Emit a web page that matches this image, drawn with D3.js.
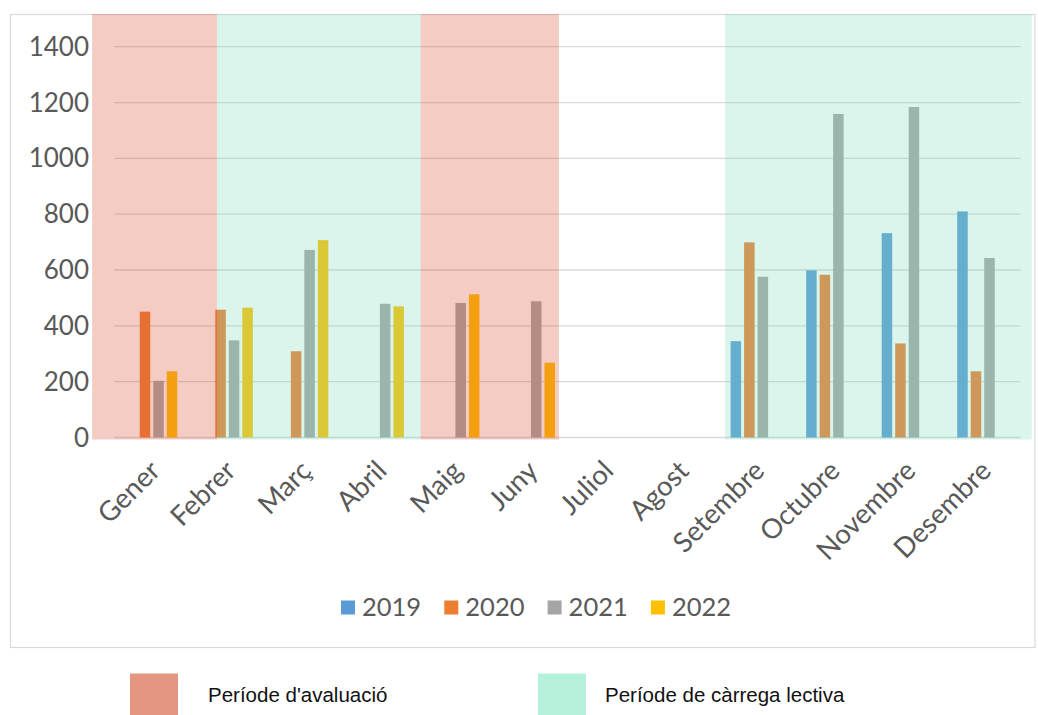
<!DOCTYPE html>
<html>
<head>
<meta charset="utf-8">
<script src="https://cdn.jsdelivr.net/npm/d3@7"></script>
<style>
  html, body { margin: 0; padding: 0; background: #ffffff; }
  svg { display: block; }
</style>
</head>
<body>
<svg id="chart" width="1038" height="715"></svg>
<script>
// Monthly counts per year
const months = ["Gener", "Febrer", "Març", "Abril", "Maig", "Juny", "Juliol", "Agost", "Setembre", "Octubre", "Novembre", "Desembre"];
const years = ["2019", "2020", "2021", "2022"];
const values2019 = [null, null, null, null, null, null, null, null, 345, 599, 732, 810];
const values2020 = [451, 458, 309, null, null, null, null, null, 699, 583, 337, 237];
const values2021 = [203, 348, 672, 479, 482, 488, null, null, 576, 1159, 1184, 643];
const values2022 = [237, 465, 707, 470, 513, 268, null, null, null, null, null, null];
const yTicks = [0, 200, 400, 600, 800, 1000, 1200, 1400];

// Shaded periods, in month-index units along the category axis
const periods = [
  { kind: "aval", from: -0.29, to: 1.363 },
  { kind: "lectiva", from: 1.363, to: 4.06 },
  { kind: "aval", from: 4.06, to: 5.89 },
  { kind: "lectiva", from: 8.09, to: 12.15 }
];
const periodLegend = [
  { kind: "aval", label: "Període d'avaluació" },
  { kind: "lectiva", label: "Període de càrrega lectiva" }
];

const seriesValues = [values2019, values2020, values2021, values2022];
const yearColor = d3.scaleOrdinal().domain(years).range(["#5B9BD5", "#ED7D31", "#A5A5A5", "#FFC000"]);
const overlayColor = { aval: "rgb(217,80,52)", lectiva: "rgb(127,220,190)" };
const swatchColor = { aval: "#E59680", lectiva: "#B4F0DA" };

const svg = d3.select("#chart");
const plot = { left: 114, right: 1020.5, top: 14, zero: 437.5 };

const x = d3.scaleBand().domain(months).range([plot.left, plot.right]).paddingInner(0).paddingOuter(0);
const xIdx = d3.scaleLinear().domain([0, months.length]).range([plot.left, plot.right]);
const x1 = d3.scaleBand().domain(years).range([0, x.bandwidth()]).paddingInner(0.222).paddingOuter(0.909);
const y = d3.scaleLinear().domain([0, 1400]).range([plot.zero, 46.7]);

// Chart frame
svg.append("rect")
  .attr("x", 10.5).attr("y", 14.5).attr("width", 1024.5).attr("height", 633)
  .attr("fill", "#ffffff").attr("stroke", "#D9D9D9").attr("stroke-width", 1.2);

// Gridlines
svg.append("g")
  .selectAll("line")
  .data(yTicks)
  .join("line")
  .attr("x1", plot.left).attr("x2", plot.right)
  .attr("y1", d => y(d)).attr("y2", d => y(d))
  .attr("stroke", "#D9D9D9")
  .attr("stroke-width", d => d === 0 ? 1.6 : 1.3);

// Y axis labels
svg.append("g")
  .selectAll("text")
  .data(yTicks)
  .join("text")
  .attr("x", 89)
  .attr("y", d => y(d))
  .attr("dy", "0.35em")
  .attr("text-anchor", "end")
  .attr("font-family", "Lato, 'Open Sans', sans-serif")
  .attr("font-size", 26)
  .attr("fill", "#595959")
  .text(d => d);

// Bars
const barData = [];
months.forEach((m, i) => {
  years.forEach((yr, k) => {
    const v = seriesValues[k][i];
    if (v != null) barData.push({ month: m, year: yr, value: v });
  });
});
svg.append("g")
  .selectAll("rect")
  .data(barData)
  .join("rect")
  .attr("x", d => x(d.month) + x1(d.year))
  .attr("width", x1.bandwidth())
  .attr("y", d => y(d.value))
  .attr("height", d => y(0) - y(d.value))
  .attr("fill", d => yearColor(d.year));

// Translucent period overlays
svg.append("g")
  .selectAll("rect")
  .data(periods)
  .join("rect")
  .attr("x", d => xIdx(d.from))
  .attr("width", d => xIdx(d.to) - xIdx(d.from))
  .attr("y", plot.top)
  .attr("height", y(0) + 2 - plot.top)
  .attr("fill", d => overlayColor[d.kind])
  .attr("fill-opacity", 0.29);

// Month labels, rotated
svg.append("g")
  .selectAll("text")
  .data(months)
  .join("text")
  .attr("transform", d => `translate(${x(d) + x.bandwidth() / 2 + 10},${plot.zero + 35}) rotate(-45)`)
  .attr("text-anchor", "end")
  .attr("font-family", "Lato, 'Open Sans', sans-serif")
  .attr("font-size", 27.5)
  .attr("fill", "#595959")
  .text(d => d);

// Year legend
const legend = svg.append("g").attr("transform", "translate(341,0)");
const li = legend.selectAll("g")
  .data(years)
  .join("g")
  .attr("transform", (d, i) => `translate(${i * 103.3},0)`);
li.append("rect")
  .attr("x", 0).attr("y", 600.5).attr("width", 14).attr("height", 14)
  .attr("fill", d => yearColor(d));
li.append("text")
  .attr("x", 21).attr("y", 616)
  .attr("font-family", "Lato, 'Open Sans', sans-serif")
  .attr("font-size", 25.5)
  .attr("fill", "#595959")
  .text(d => d);

// Period legend below the frame
const pl = svg.append("g")
  .selectAll("g")
  .data(periodLegend)
  .join("g")
  .attr("transform", (d, i) => `translate(${i === 0 ? 130 : 538},0)`);
pl.append("rect")
  .attr("x", 0).attr("y", 673.5).attr("width", 48).attr("height", 45)
  .attr("fill", d => swatchColor[d.kind]);
pl.append("text")
  .attr("x", (d, i) => i === 0 ? 78 : 67).attr("y", 701.5)
  .attr("font-family", "'Liberation Sans', Arial, sans-serif")
  .attr("font-size", 20.5)
  .attr("fill", "#111111")
  .text(d => d.label);
</script>
</body>
</html>
